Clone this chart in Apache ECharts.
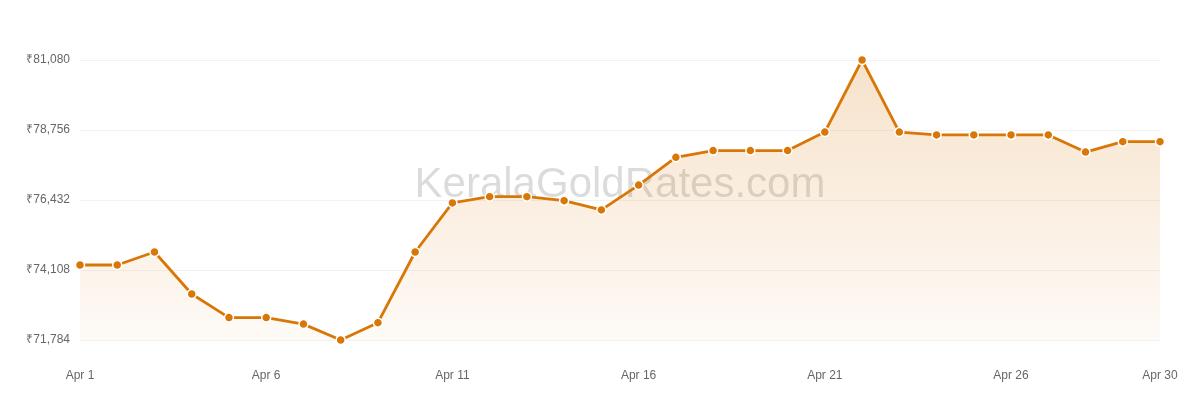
<!DOCTYPE html>
<html>
<head>
<meta charset="utf-8">
<script src="https://cdn.jsdelivr.net/npm/echarts@6/dist/echarts.min.js"></script>
<style>
html,body{margin:0;padding:0;background:#fff;}
#chart{width:1200px;height:400px;}
</style>
</head>
<body>
<div id="chart"></div>
<script>
const categories = ["Apr 1","Apr 2","Apr 3","Apr 4","Apr 5","Apr 6","Apr 7","Apr 8","Apr 9","Apr 10",
  "Apr 11","Apr 12","Apr 13","Apr 14","Apr 15","Apr 16","Apr 17","Apr 18","Apr 19","Apr 20",
  "Apr 21","Apr 22","Apr 23","Apr 24","Apr 25","Apr 26","Apr 27","Apr 28","Apr 29","Apr 30"];
const prices = [74274, 74274, 74706, 73312, 72528, 72528, 72312, 71784, 72360, 74706,
  76336, 76544, 76544, 76408, 76104, 76928, 77848, 78072, 78072, 78072,
  78688, 81080, 78688, 78592, 78592, 78592, 78592, 78024, 78368, 78368];
const yTicks = [71784, 74108, 76432, 78756, 81080];
const shownLabels = ["Apr 1","Apr 6","Apr 11","Apr 16","Apr 21","Apr 26","Apr 30"];
const watermark = "KeralaGoldRates.com";

const chart = echarts.init(document.getElementById('chart'), null, {renderer:'canvas'});
chart.setOption({
  animation: false,
  grid: {left: 80, right: 40, top: 60, bottom: 60},
  graphic: [{
    type: 'text',
    x: 620,
    y: 206,
    z: 1,
    silent: true,
    style: {
      text: watermark,
      font: '42px "Liberation Sans", Arial, sans-serif',
      fill: 'rgba(0,0,0,0.14)',
      align: 'center',
      verticalAlign: 'bottom'
    }
  }],
  xAxis: {
    type: 'category',
    data: categories,
    boundaryGap: false,
    axisLine: {show: false},
    axisTick: {show: false},
    splitLine: {show: false},
    axisLabel: {
      color: '#666',
      fontSize: 12,
      fontFamily: '"Liberation Sans", Arial, sans-serif',
      margin: 30,
      interval: (i, v) => shownLabels.indexOf(v) >= 0
    }
  },
  yAxis: {
    type: 'value',
    min: yTicks[0],
    max: yTicks[yTicks.length - 1],
    interval: yTicks[1] - yTicks[0],
    axisLine: {show: false},
    axisTick: {show: false},
    splitLine: {lineStyle: {color: '#f2f2f2', width: 1}},
    axisLabel: {
      color: '#666',
      fontSize: 12,
      fontFamily: '"Liberation Sans", Arial, sans-serif',
      margin: 10,
      formatter: v => '₹' + Math.round(v).toLocaleString('en-US')
    }
  },
  series: [{
    type: 'line',
    data: prices,
    z: 3,
    smooth: false,
    symbol: 'circle',
    symbolSize: 9,
    showSymbol: true,
    lineStyle: {color: '#d97706', width: 2.8},
    itemStyle: {color: '#d97706', borderColor: '#fff', borderWidth: 1.5},
    areaStyle: {
      color: new echarts.graphic.LinearGradient(0, 0, 0, 1, [
        {offset: 0, color: 'rgba(217,119,6,0.30)'},
        {offset: 1, color: 'rgba(217,119,6,0.05)'}
      ])
    }
  }]
});
</script>
</body>
</html>
